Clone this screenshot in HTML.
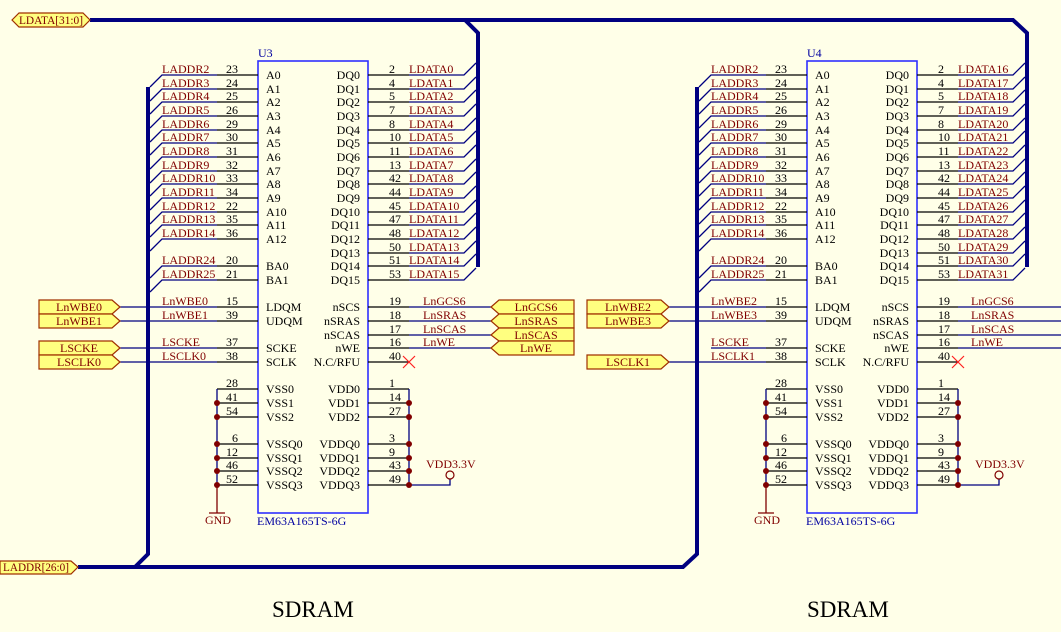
<!DOCTYPE html>
<html><head><meta charset="utf-8"><style>
html,body{margin:0;padding:0;background:#FFFFE8;}
svg{display:block;}
text{font-family:"Liberation Serif",serif;font-size:12px;}
.n{fill:#800000;}
.p{fill:#000;}
.b{fill:#0000a0;}
.w{stroke:#000080;stroke-width:1.3;fill:none;}
.k{stroke:#000;stroke-width:1.2;fill:none;}
.bus{stroke:#000080;stroke-width:4;fill:none;stroke-linejoin:miter;}
.port{fill:#FFFF80;stroke:#A03000;stroke-width:1.2;}
.box{fill:none;stroke:#3030ff;stroke-width:1.6;}
.d{fill:#800000;}
</style></head><body>
<svg width="1061" height="632" viewBox="0 0 1061 632" xmlns="http://www.w3.org/2000/svg">
<rect width="1061" height="632" fill="#FFFFE8"/>

<path class="bus" d="M90,20 H465 L478,33 V267"/>
<path class="bus" d="M465,20 H1013 L1027,33 V267"/>
<path class="bus" d="M78,567 H683 L697,554 V87"/>
<path class="bus" d="M135,567 L148,554 V87"/>

<polygon class="port" points="12,20 19,13 83,13 90,20 83,27 19,27"/>
<text x="19" y="24" class="n" font-size="11" textLength="64" lengthAdjust="spacingAndGlyphs">LDATA[31:0]</text>
<polygon class="port" points="0,561 71,561 78,567 71,574 0,574"/>
<text x="3" y="571" class="n" font-size="11" textLength="66" lengthAdjust="spacingAndGlyphs">LADDR[26:0]</text>

<g id="u3">
<rect class="box" x="258" y="61" width="110" height="452"/>
<text x="258" y="57" class="b">U3</text>
<text x="257" y="525" class="b">EM63A165TS-6G</text>
<g class="k">
<path d="M217,75H258M217,89H258M217,102H258M217,116H258M217,130H258M217,143H258M217,157H258M217,171H258M217,184H258M217,198H258M217,212H258M217,225H258M217,239H258M217,266H258M217,280H258"/>
<path d="M217,307H258M217,321H258M217,348H258M217,362H258"/>
<path d="M217,389H258M217,403H258M217,417H258M217,444H258M217,458H258M217,471H258M217,485H258"/>
<path d="M368,75H409M368,89H409M368,102H409M368,116H409M368,130H409M368,143H409M368,157H409M368,171H409M368,184H409M368,198H409M368,212H409M368,225H409M368,239H409M368,253H409M368,266H409M368,280H409"/>
<path d="M368,307H409M368,321H409M368,335H409M368,348H409M368,362H409"/>
<path d="M368,389H409M368,403H409M368,417H409M368,444H409M368,458H409M368,471H409M368,485H409"/>
</g>
<g class="w">
<path d="M150,87L162,75H217M150,101L162,89H217M150,114L162,102H217M150,128L162,116H217M150,142L162,130H217M150,155L162,143H217M150,169L162,157H217M150,183L162,171H217M150,196L162,184H217M150,210L162,198H217M150,224L162,212H217M150,237L162,225H217M150,251L162,239H217M150,278L162,266H217M150,292L162,280H217"/>
<path d="M409,75H464L476,63M409,89H464L476,77M409,102H464L476,90M409,116H464L476,104M409,130H464L476,118M409,143H464L476,131M409,157H464L476,145M409,171H464L476,159M409,184H464L476,172M409,198H464L476,186M409,212H464L476,200M409,225H464L476,213M409,239H464L476,227M409,253H464L476,241M409,266H464L476,254M409,280H464L476,268"/>
<path d="M120,307H217M120,321H217M120,348H217M120,362H217"/>
<path d="M409,307H491M409,321H491M409,335H491M409,348H491"/>
<path d="M217,389V485M409,389V485M409,485H450V479"/>
</g>
<path d="M217,485V513M209,513H225" stroke="#800000" stroke-width="1.3"/>
<circle cx="450" cy="475" r="4" fill="none" stroke="#800000" stroke-width="1.2"/>
<text x="426" y="468" class="n">VDD3.3V</text>
<text x="205" y="524" class="n" font-size="11">GND</text>
<path d="M403,356L415,368M415,356L403,368" stroke="#ff2020" stroke-width="1.2"/>
<g class="d">
<circle cx="217" cy="403" r="3"/><circle cx="217" cy="417" r="3"/><circle cx="217" cy="444" r="3"/><circle cx="217" cy="458" r="3"/><circle cx="217" cy="471" r="3"/><circle cx="217" cy="485" r="3"/>
<circle cx="409" cy="403" r="3"/><circle cx="409" cy="417" r="3"/><circle cx="409" cy="444" r="3"/><circle cx="409" cy="458" r="3"/><circle cx="409" cy="471" r="3"/><circle cx="409" cy="485" r="3"/>
</g>

<polygon class="port" points="39,300 112,300 120,307 112,314 39,314"/><text x="79" y="311" class="n" text-anchor="middle">LnWBE0</text>
<polygon class="port" points="39,314 112,314 120,321 112,328 39,328"/><text x="79" y="325" class="n" text-anchor="middle">LnWBE1</text>
<polygon class="port" points="39,341 112,341 120,348 112,355 39,355"/><text x="79" y="352" class="n" text-anchor="middle">LSCKE</text>
<polygon class="port" points="39,355 112,355 120,362 112,369 39,369"/><text x="79" y="366" class="n" text-anchor="middle">LSCLK0</text>
<polygon class="port" points="491,307 499,300 574,300 574,314 499,314"/><text x="536" y="311" class="n" text-anchor="middle">LnGCS6</text>
<polygon class="port" points="491,321 499,314 574,314 574,328 499,328"/><text x="536" y="325" class="n" text-anchor="middle">LnSRAS</text>
<polygon class="port" points="491,335 499,328 574,328 574,341 499,341"/><text x="536" y="339" class="n" text-anchor="middle">LnSCAS</text>
<polygon class="port" points="491,348 499,341 574,341 574,355 499,355"/><text x="536" y="352" class="n" text-anchor="middle">LnWE</text>

<g class="n">
<text x="162" y="73">LADDR2</text><text x="162" y="87">LADDR3</text><text x="162" y="100">LADDR4</text><text x="162" y="114">LADDR5</text><text x="162" y="128">LADDR6</text><text x="162" y="141">LADDR7</text><text x="162" y="155">LADDR8</text><text x="162" y="169">LADDR9</text><text x="162" y="182">LADDR10</text><text x="162" y="196">LADDR11</text><text x="162" y="210">LADDR12</text><text x="162" y="223">LADDR13</text><text x="162" y="237">LADDR14</text><text x="162" y="264">LADDR24</text><text x="162" y="278">LADDR25</text>
<text x="162" y="305">LnWBE0</text><text x="162" y="319">LnWBE1</text><text x="162" y="346">LSCKE</text><text x="162" y="360">LSCLK0</text>
<text x="409" y="73">LDATA0</text><text x="409" y="87">LDATA1</text><text x="409" y="100">LDATA2</text><text x="409" y="114">LDATA3</text><text x="409" y="128">LDATA4</text><text x="409" y="141">LDATA5</text><text x="409" y="155">LDATA6</text><text x="409" y="169">LDATA7</text><text x="409" y="182">LDATA8</text><text x="409" y="196">LDATA9</text><text x="409" y="210">LDATA10</text><text x="409" y="223">LDATA11</text><text x="409" y="237">LDATA12</text><text x="409" y="251">LDATA13</text><text x="409" y="264">LDATA14</text><text x="409" y="278">LDATA15</text>
<text x="423" y="305">LnGCS6</text><text x="423" y="319">LnSRAS</text><text x="423" y="333">LnSCAS</text><text x="423" y="346">LnWE</text>
</g>
<g class="p" text-anchor="end">
<text x="238" y="73">23</text><text x="238" y="87">24</text><text x="238" y="100">25</text><text x="238" y="114">26</text><text x="238" y="128">29</text><text x="238" y="141">30</text><text x="238" y="155">31</text><text x="238" y="169">32</text><text x="238" y="182">33</text><text x="238" y="196">34</text><text x="238" y="210">22</text><text x="238" y="223">35</text><text x="238" y="237">36</text><text x="238" y="264">20</text><text x="238" y="278">21</text>
<text x="238" y="305">15</text><text x="238" y="319">39</text><text x="238" y="346">37</text><text x="238" y="360">38</text>
<text x="238" y="387">28</text><text x="238" y="401">41</text><text x="238" y="415">54</text><text x="238" y="442">6</text><text x="238" y="456">12</text><text x="238" y="469">46</text><text x="238" y="483">52</text>
</g>
<g class="p">
<text x="389" y="73">2</text><text x="389" y="87">4</text><text x="389" y="100">5</text><text x="389" y="114">7</text><text x="389" y="128">8</text><text x="389" y="141">10</text><text x="389" y="155">11</text><text x="389" y="169">13</text><text x="389" y="182">42</text><text x="389" y="196">44</text><text x="389" y="210">45</text><text x="389" y="223">47</text><text x="389" y="237">48</text><text x="389" y="251">50</text><text x="389" y="264">51</text><text x="389" y="278">53</text>
<text x="389" y="305">19</text><text x="389" y="319">18</text><text x="389" y="333">17</text><text x="389" y="346">16</text><text x="389" y="360">40</text>
<text x="389" y="387">1</text><text x="389" y="401">14</text><text x="389" y="415">27</text><text x="389" y="442">3</text><text x="389" y="456">9</text><text x="389" y="469">43</text><text x="389" y="483">49</text>
</g>
<g class="p">
<text x="266" y="79">A0</text><text x="266" y="93">A1</text><text x="266" y="106">A2</text><text x="266" y="120">A3</text><text x="266" y="134">A4</text><text x="266" y="147">A5</text><text x="266" y="161">A6</text><text x="266" y="175">A7</text><text x="266" y="188">A8</text><text x="266" y="202">A9</text><text x="266" y="216">A10</text><text x="266" y="229">A11</text><text x="266" y="243">A12</text><text x="266" y="270">BA0</text><text x="266" y="284">BA1</text>
<text x="266" y="311">LDQM</text><text x="266" y="325">UDQM</text><text x="266" y="352">SCKE</text><text x="266" y="366">SCLK</text>
<text x="266" y="393">VSS0</text><text x="266" y="407">VSS1</text><text x="266" y="421">VSS2</text><text x="266" y="448">VSSQ0</text><text x="266" y="462">VSSQ1</text><text x="266" y="475">VSSQ2</text><text x="266" y="489">VSSQ3</text>
</g>
<g class="p" text-anchor="end">
<text x="360" y="79">DQ0</text><text x="360" y="93">DQ1</text><text x="360" y="106">DQ2</text><text x="360" y="120">DQ3</text><text x="360" y="134">DQ4</text><text x="360" y="147">DQ5</text><text x="360" y="161">DQ6</text><text x="360" y="175">DQ7</text><text x="360" y="188">DQ8</text><text x="360" y="202">DQ9</text><text x="360" y="216">DQ10</text><text x="360" y="229">DQ11</text><text x="360" y="243">DQ12</text><text x="360" y="257">DQ13</text><text x="360" y="270">DQ14</text><text x="360" y="284">DQ15</text>
<text x="360" y="311">nSCS</text><text x="360" y="325">nSRAS</text><text x="360" y="339">nSCAS</text><text x="360" y="352">nWE</text><text x="360" y="366">N.C/RFU</text>
<text x="360" y="393">VDD0</text><text x="360" y="407">VDD1</text><text x="360" y="421">VDD2</text><text x="360" y="448">VDDQ0</text><text x="360" y="462">VDDQ1</text><text x="360" y="475">VDDQ2</text><text x="360" y="489">VDDQ3</text>
</g>
</g>

<g transform="translate(549,0)">
<rect class="box" x="258" y="61" width="110" height="452"/>
<text x="258" y="57" class="b">U4</text>
<text x="257" y="525" class="b">EM63A165TS-6G</text>
<g class="k">
<path d="M217,75H258M217,89H258M217,102H258M217,116H258M217,130H258M217,143H258M217,157H258M217,171H258M217,184H258M217,198H258M217,212H258M217,225H258M217,239H258M217,266H258M217,280H258"/>
<path d="M217,307H258M217,321H258M217,348H258M217,362H258"/>
<path d="M217,389H258M217,403H258M217,417H258M217,444H258M217,458H258M217,471H258M217,485H258"/>
<path d="M368,75H409M368,89H409M368,102H409M368,116H409M368,130H409M368,143H409M368,157H409M368,171H409M368,184H409M368,198H409M368,212H409M368,225H409M368,239H409M368,253H409M368,266H409M368,280H409"/>
<path d="M368,307H409M368,321H409M368,335H409M368,348H409M368,362H409"/>
<path d="M368,389H409M368,403H409M368,417H409M368,444H409M368,458H409M368,471H409M368,485H409"/>
</g>
<g class="w">
<path d="M150,87L162,75H217M150,101L162,89H217M150,114L162,102H217M150,128L162,116H217M150,142L162,130H217M150,155L162,143H217M150,169L162,157H217M150,183L162,171H217M150,196L162,184H217M150,210L162,198H217M150,224L162,212H217M150,237L162,225H217M150,251L162,239H217M150,278L162,266H217M150,292L162,280H217"/>
<path d="M409,75H464L476,63M409,89H464L476,77M409,102H464L476,90M409,116H464L476,104M409,130H464L476,118M409,143H464L476,131M409,157H464L476,145M409,171H464L476,159M409,184H464L476,172M409,198H464L476,186M409,212H464L476,200M409,225H464L476,213M409,239H464L476,227M409,253H464L476,241M409,266H464L476,254M409,280H464L476,268"/>
<path d="M120,307H217M120,321H217M162,348H217M120,362H217"/>
<path d="M409,307H512M409,321H512M409,335H512M409,348H512"/>
<path d="M217,389V485M409,389V485M409,485H450V479"/>
</g>
<path d="M217,485V513M209,513H225" stroke="#800000" stroke-width="1.3"/>
<circle cx="450" cy="475" r="4" fill="none" stroke="#800000" stroke-width="1.2"/>
<text x="426" y="468" class="n">VDD3.3V</text>
<text x="205" y="524" class="n" font-size="11">GND</text>
<path d="M403,356L415,368M415,356L403,368" stroke="#ff2020" stroke-width="1.2"/>
<g class="d">
<circle cx="217" cy="403" r="3"/><circle cx="217" cy="417" r="3"/><circle cx="217" cy="444" r="3"/><circle cx="217" cy="458" r="3"/><circle cx="217" cy="471" r="3"/><circle cx="217" cy="485" r="3"/>
<circle cx="409" cy="403" r="3"/><circle cx="409" cy="417" r="3"/><circle cx="409" cy="444" r="3"/><circle cx="409" cy="458" r="3"/><circle cx="409" cy="471" r="3"/><circle cx="409" cy="485" r="3"/>
</g>
<polygon class="port" points="38,300 112,300 120,307 112,314 38,314"/><text x="79" y="311" class="n" text-anchor="middle">LnWBE2</text>
<polygon class="port" points="38,314 112,314 120,321 112,328 38,328"/><text x="79" y="325" class="n" text-anchor="middle">LnWBE3</text>
<polygon class="port" points="38,355 112,355 120,362 112,369 38,369"/><text x="79" y="366" class="n" text-anchor="middle">LSCLK1</text>
<g class="n">
<text x="162" y="73">LADDR2</text><text x="162" y="87">LADDR3</text><text x="162" y="100">LADDR4</text><text x="162" y="114">LADDR5</text><text x="162" y="128">LADDR6</text><text x="162" y="141">LADDR7</text><text x="162" y="155">LADDR8</text><text x="162" y="169">LADDR9</text><text x="162" y="182">LADDR10</text><text x="162" y="196">LADDR11</text><text x="162" y="210">LADDR12</text><text x="162" y="223">LADDR13</text><text x="162" y="237">LADDR14</text><text x="162" y="264">LADDR24</text><text x="162" y="278">LADDR25</text>
<text x="162" y="305">LnWBE2</text><text x="162" y="319">LnWBE3</text><text x="162" y="346">LSCKE</text><text x="162" y="360">LSCLK1</text>
<text x="409" y="73">LDATA16</text><text x="409" y="87">LDATA17</text><text x="409" y="100">LDATA18</text><text x="409" y="114">LDATA19</text><text x="409" y="128">LDATA20</text><text x="409" y="141">LDATA21</text><text x="409" y="155">LDATA22</text><text x="409" y="169">LDATA23</text><text x="409" y="182">LDATA24</text><text x="409" y="196">LDATA25</text><text x="409" y="210">LDATA26</text><text x="409" y="223">LDATA27</text><text x="409" y="237">LDATA28</text><text x="409" y="251">LDATA29</text><text x="409" y="264">LDATA30</text><text x="409" y="278">LDATA31</text>
<text x="422" y="305">LnGCS6</text><text x="422" y="319">LnSRAS</text><text x="422" y="333">LnSCAS</text><text x="422" y="346">LnWE</text>
</g>
<g class="p" text-anchor="end">
<text x="238" y="73">23</text><text x="238" y="87">24</text><text x="238" y="100">25</text><text x="238" y="114">26</text><text x="238" y="128">29</text><text x="238" y="141">30</text><text x="238" y="155">31</text><text x="238" y="169">32</text><text x="238" y="182">33</text><text x="238" y="196">34</text><text x="238" y="210">22</text><text x="238" y="223">35</text><text x="238" y="237">36</text><text x="238" y="264">20</text><text x="238" y="278">21</text>
<text x="238" y="305">15</text><text x="238" y="319">39</text><text x="238" y="346">37</text><text x="238" y="360">38</text>
<text x="238" y="387">28</text><text x="238" y="401">41</text><text x="238" y="415">54</text><text x="238" y="442">6</text><text x="238" y="456">12</text><text x="238" y="469">46</text><text x="238" y="483">52</text>
</g>
<g class="p">
<text x="389" y="73">2</text><text x="389" y="87">4</text><text x="389" y="100">5</text><text x="389" y="114">7</text><text x="389" y="128">8</text><text x="389" y="141">10</text><text x="389" y="155">11</text><text x="389" y="169">13</text><text x="389" y="182">42</text><text x="389" y="196">44</text><text x="389" y="210">45</text><text x="389" y="223">47</text><text x="389" y="237">48</text><text x="389" y="251">50</text><text x="389" y="264">51</text><text x="389" y="278">53</text>
<text x="389" y="305">19</text><text x="389" y="319">18</text><text x="389" y="333">17</text><text x="389" y="346">16</text><text x="389" y="360">40</text>
<text x="389" y="387">1</text><text x="389" y="401">14</text><text x="389" y="415">27</text><text x="389" y="442">3</text><text x="389" y="456">9</text><text x="389" y="469">43</text><text x="389" y="483">49</text>
</g>
<g class="p">
<text x="266" y="79">A0</text><text x="266" y="93">A1</text><text x="266" y="106">A2</text><text x="266" y="120">A3</text><text x="266" y="134">A4</text><text x="266" y="147">A5</text><text x="266" y="161">A6</text><text x="266" y="175">A7</text><text x="266" y="188">A8</text><text x="266" y="202">A9</text><text x="266" y="216">A10</text><text x="266" y="229">A11</text><text x="266" y="243">A12</text><text x="266" y="270">BA0</text><text x="266" y="284">BA1</text>
<text x="266" y="311">LDQM</text><text x="266" y="325">UDQM</text><text x="266" y="352">SCKE</text><text x="266" y="366">SCLK</text>
<text x="266" y="393">VSS0</text><text x="266" y="407">VSS1</text><text x="266" y="421">VSS2</text><text x="266" y="448">VSSQ0</text><text x="266" y="462">VSSQ1</text><text x="266" y="475">VSSQ2</text><text x="266" y="489">VSSQ3</text>
</g>
<g class="p" text-anchor="end">
<text x="360" y="79">DQ0</text><text x="360" y="93">DQ1</text><text x="360" y="106">DQ2</text><text x="360" y="120">DQ3</text><text x="360" y="134">DQ4</text><text x="360" y="147">DQ5</text><text x="360" y="161">DQ6</text><text x="360" y="175">DQ7</text><text x="360" y="188">DQ8</text><text x="360" y="202">DQ9</text><text x="360" y="216">DQ10</text><text x="360" y="229">DQ11</text><text x="360" y="243">DQ12</text><text x="360" y="257">DQ13</text><text x="360" y="270">DQ14</text><text x="360" y="284">DQ15</text>
<text x="360" y="311">nSCS</text><text x="360" y="325">nSRAS</text><text x="360" y="339">nSCAS</text><text x="360" y="352">nWE</text><text x="360" y="366">N.C/RFU</text>
<text x="360" y="393">VDD0</text><text x="360" y="407">VDD1</text><text x="360" y="421">VDD2</text><text x="360" y="448">VDDQ0</text><text x="360" y="462">VDDQ1</text><text x="360" y="475">VDDQ2</text><text x="360" y="489">VDDQ3</text>
</g>
</g>

<text x="272" y="617" style="font-size:23px" fill="#000">SDRAM</text>
<text x="807" y="617" style="font-size:23px" fill="#000">SDRAM</text>
</svg>
</body></html>
